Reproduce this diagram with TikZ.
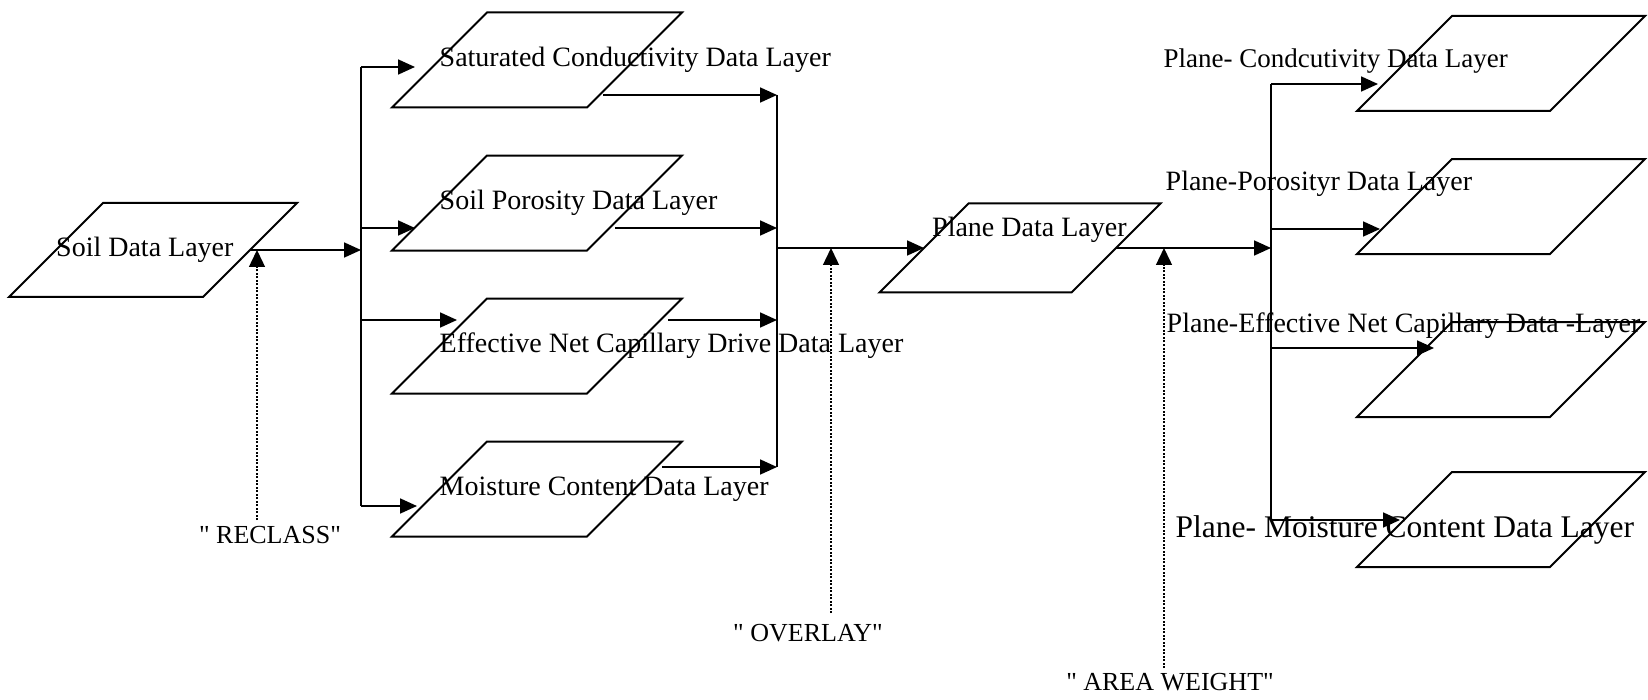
\documentclass[tikz,border=0pt]{standalone}
\usepackage{fontspec}
\setmainfont{Liberation Serif}[Ligatures=TeXOff]
\usetikzlibrary{positioning, calc, arrows.meta, shapes.geometric}

\begin{document}
\begin{tikzpicture}[x=1pt, y=-1pt, node distance=48pt, layer/.style={draw,
    trapezium, trapezium left angle=45, trapezium right angle=135, inner
    xsep=50pt, inner ysep=47.5pt, outer sep=0pt, line width=2pt},
    every label/.style={inner sep=0pt, font=\fontsize{28}{30}\selectfont},
    arrow/.style={-{Triangle[length=17pt, width=15pt]}, line width=1.8pt},
    dotarrow/.style={-{Triangle[length=17pt, width=16pt]}, line width=1.4pt,
    dash pattern=on 2pt off 1.5pt}, op/.style={inner sep=0pt,
    font=\fontsize{26}{28}\selectfont}]
  \useasboundingbox (0,0) rectangle (1648,700);

  % soil side
  \node[layer, inner ysep=47pt, label={[anchor=west]west:Soil Data Layer}]
  (soil) at (153,250) {}; \node[layer, label={[anchor=west]west:Saturated
  Conductivity Data Layer}] (sat) at (537,60) {}; \node[layer, below=of sat,
  label={[anchor=west]west:Soil Porosity Data Layer}] (por) {}; \node[layer,
  below=of por, label={[anchor=west]west:Effective Net Capillary Drive Data
  Layer}] (eff) {}; \node[layer, below=of eff, label={[anchor=west]west:Moisture
  Content Data Layer}] (moist) {};

  % plane side
  \node[layer, inner xsep=51.5pt, inner ysep=44.5pt, label={[anchor=base west,
  xshift=8pt, yshift=11pt]west:Plane Data Layer}] (plane) at (1020,248) {};
  \node[layer, inner xsep=49pt, label={[anchor=base west, xshift=-241pt,
  yshift=-4.5pt, font=\fontsize{27}{29}\selectfont]west:Plane- Condcutivity Data
  Layer}] (pcond) at (1501,63.5) {}; \node[layer, inner xsep=49pt, below=of
  pcond, label={[anchor=base west, xshift=-239pt, yshift=16.5pt]west:Plane-Porosityr
  Data Layer}] (ppor) {}; \node[layer, inner xsep=49pt, below=68pt of ppor,
  label={[anchor=base west, xshift=-238pt, yshift=37.5pt]west:Plane-Effective Net
  Capillary Data -Layer}] (peff) {}; \node[layer, inner xsep=49pt, below=55pt
  of peff, label={[anchor=base west, xshift=-229pt, yshift=-17.5pt,
  font=\fontsize{31.5}{33}\selectfont]west:Plane- Moisture Content Data Layer}]
  (pmoist) {};

  % operations
  \node[op] (reclass) at (270,535) {" RECLASS"}; \node[op] (overlay) at
  (808,633) {" OVERLAY"}; \node[op] (areaweight) at (1170,682) {" AREA
  WEIGHT"};

  \coordinate (fork) at (361,250); \coordinate (inSat) at (415,67);
  \coordinate (inPor) at (415,228); \coordinate (inEff) at (457,320);
  \coordinate (inMoist) at (417,506); \coordinate (outSat) at (603,95);
  \coordinate (outPor) at (615,228); \coordinate (outEff) at (668,320);
  \coordinate (outMoist) at (662,467); \coordinate (merge) at (777,248);
  \coordinate (fork2) at (1271,248); \coordinate (inPcond) at (1378,84);
  \coordinate (inPpor) at (1380,229); \coordinate (inPeff) at (1434,348);
  \coordinate (inPmoist) at (1400,520); \coordinate (rc) at (257,520);
  \coordinate (ovl) at (831,613); \coordinate (aw) at (1164,668);

  \draw[arrow] (soil.east) -- (fork); \draw[line width=1.8pt] (fork |- inSat)
  -- (fork |- inMoist); \draw[arrow] (fork |- inSat) -- (inSat); \draw[arrow]
  (fork |- inPor) -- (inPor); \draw[arrow] (fork |- inEff) -- (inEff);
  \draw[arrow] (fork |- inMoist) -- (inMoist);

  \draw[arrow] (outSat) -- (outSat -| merge); \draw[arrow] (outPor) -- (outPor
  -| merge); \draw[arrow] (outEff) -- (outEff -| merge); \draw[arrow]
  (outMoist) -- (outMoist -| merge); \draw[line width=1.8pt] (merge |- outSat)
  -- (merge |- outMoist); \draw[arrow] (merge) -- (plane.west);

  \draw[arrow] (plane.east) -- (fork2); \draw[line width=1.8pt] (fork2 |-
  inPcond) -- (fork2 |- inPmoist); \draw[arrow] (fork2 |- inPcond) --
  (inPcond); \draw[arrow] (fork2 |- inPpor) -- (inPpor); \draw[arrow] (fork2
  |- inPeff) -- (inPeff); \draw[arrow] (fork2 |- inPmoist) -- (inPmoist);

  \draw[dotarrow] (rc) -- (rc |- fork); \draw[dotarrow] (ovl) -- (ovl |-
  merge); \draw[dotarrow] (aw) -- (aw |- fork2);
\end{tikzpicture}
\end{document}
